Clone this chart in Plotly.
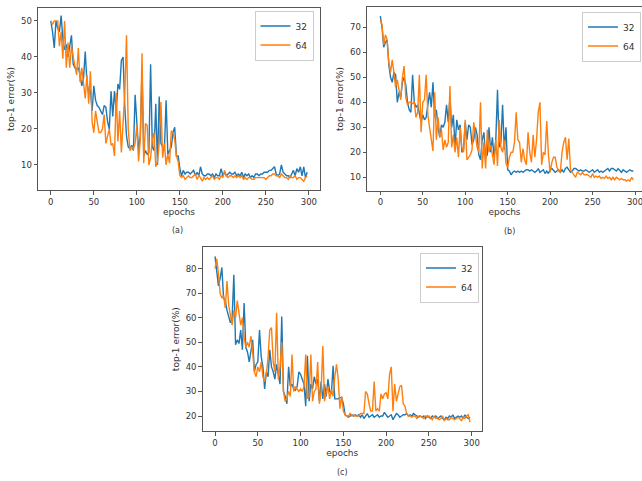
import plotly.graph_objects as go

epochs = list(range(0, 300, 2))

a32 = [50, 47, 42.5, 50, 48, 47, 51.5, 45, 42, 43.5,
       40, 43, 46, 38, 37, 36.5, 37, 35, 32, 34,
       41.5, 33, 30, 31, 25, 32, 28, 26.5, 26, 25,
       24, 26.5, 26, 22, 20, 30.5, 23.5, 30.5, 25, 32.5,
       31, 39, 40, 26, 18, 15, 14.5, 15.5, 14, 29.5,
       20, 14, 18, 36.5, 12.5, 14, 13, 13.5, 38, 15,
       14, 27, 10, 29, 16, 15, 14, 28, 13, 14,
       15, 19, 20.5, 12.5, 12.5, 9, 7, 8.5, 7.5, 8,
       8, 7.5, 8, 8.5, 7, 8, 7, 9.5, 7.5, 7,
       7, 7.5, 7.5, 7, 7.5, 6.5, 7.5, 7, 7, 9,
       7, 8, 7, 7.5, 8, 7.5, 7.5, 8, 7, 7.5,
       7, 8, 6.5, 7.5, 7, 7.5, 6.5, 7, 6.5, 7.5,
       7.5, 7, 7.5, 7.5, 8, 8, 8, 8.5, 8.5, 9,
       9.5, 7.5, 7, 7.5, 10, 8, 7.5, 7, 7, 6.5,
       7.5, 8.5, 7, 9, 8, 9.5, 7, 9.5, 6.5, 8]

a64 = [50, 49, 50, 50, 50, 43, 47, 39.5, 50, 37,
       44, 37, 43, 40, 37, 35, 42.5, 33, 37, 33,
       28.5, 35, 27, 36, 22, 19, 25, 22, 19, 19,
       20, 24, 16, 18, 20, 15.5, 16, 12.5, 30, 16.5,
       25, 13.5, 21, 30, 46, 20, 14, 15, 14.5, 16,
       21, 11, 17, 41, 10.5, 21.5, 21, 10, 12, 17,
       19, 9.5, 11, 16, 27.5, 12, 16, 10, 13, 10.5,
       19.5, 19, 17, 12.5, 11, 7, 6.5, 7, 6, 6.5,
       7, 6.5, 6.5, 7, 7.5, 6, 7, 6.5, 5.5, 6.5,
       6, 6.5, 6, 6.5, 7, 6, 6.5, 6.5, 6, 7,
       6.5, 8.5, 7, 6.5, 7, 7, 6.5, 7, 6.5, 7,
       6.5, 7, 6, 6.5, 6, 6.5, 6.5, 6, 6, 6.5,
       6.5, 6.5, 6.5, 6.5, 6.5, 6, 6.5, 7, 7, 7.5,
       7.5, 7, 7, 6.5, 7.5, 7, 6.5, 6.5, 6, 7,
       6.5, 6.5, 7, 6, 6.5, 6.5, 6, 5.5, 6.5, 7]

b32 = [74.5, 70, 62, 64, 65, 55, 50, 48, 52, 51,
       40, 44, 42, 48, 50, 47, 40, 37, 36, 51,
       40, 38, 39, 35, 32, 35, 33, 34, 40, 44,
       38, 48, 34, 37, 30, 26, 31, 30, 32, 39,
       32, 42, 30, 35, 22, 33, 29, 31, 20, 21,
       32, 25, 31, 30, 23, 25, 30, 27, 19, 17,
       25, 28, 18, 19, 30, 20, 26, 18, 25, 45,
       22, 24, 39, 21, 30, 13, 12.5, 11, 12, 12.5,
       12, 12.5, 12, 12.5, 12, 12.5, 13, 13, 12.5, 13,
       12.5, 12, 12.5, 13.5, 12, 12.5, 13, 11.5, 12.5, 11.5,
       13, 13.5, 12.5, 12, 12.5, 13, 12, 13, 12, 13.5,
       14, 13, 12, 12.5, 13.5, 13.5, 13, 12.5, 13, 12.5,
       12.5, 13, 12.5, 12, 12.5, 13, 12, 12.5, 13, 12,
       12.5, 12, 12.5, 13, 13.5, 12.5, 13.5, 13.5, 13, 12.5,
       13.5, 12.5, 12, 13, 12.5, 12, 12.5, 13, 12.5, 12.5]

b64 = [73, 71, 63, 67, 65, 56, 52, 57, 52, 46,
       49, 45, 41, 50, 54.5, 42, 39, 40, 40, 39.5,
       40, 34, 36, 51, 28, 40, 41, 51, 35, 30,
       24, 20.5, 44, 25, 34, 26, 29, 21, 25, 22,
       24, 46.5, 22, 27, 20, 26, 18, 30, 22, 20,
       33, 17, 18, 19, 21, 32, 27, 22, 20, 40,
       13.5, 24, 13.5, 29, 20, 23, 19, 15, 25, 14.5,
       33, 22, 20, 25, 15.5, 14, 18, 20, 20, 24,
       36, 25, 24, 16, 21.5, 17, 15, 28, 20, 16,
       27, 18, 25, 36, 40, 15, 20, 19, 32.5, 19,
       12, 16, 18, 18, 14, 12.5, 12, 20, 24, 26,
       17, 25.5, 13, 12, 11, 10, 12, 11.5, 11, 12,
       11, 11, 11, 10.5, 10, 11.5, 10, 10.5, 10, 10.5,
       9.5, 10, 9.5, 10.5, 9.5, 10, 9, 10, 9, 10,
       9.5, 9, 9.5, 9, 9, 8.5, 9, 8.5, 10, 9]

c32 = [85, 78, 73, 76, 80.5, 68, 67, 63, 60, 58,
       60, 77.5, 49, 51, 49.5, 55, 47, 66, 48, 46,
       42, 46, 51, 38, 41, 42, 55, 44, 40, 31,
       38, 36, 47, 40, 38, 35, 41, 37, 33, 60.5,
       30, 28, 25, 40, 32, 33, 31, 30.5, 32, 38,
       37, 35, 33, 24, 44.5, 26, 33, 31, 36, 33,
       35, 26, 34, 27, 33, 28, 35, 30, 29, 40.5,
       27, 27, 27, 27.5, 27.5, 25, 20.5, 20, 19.5, 20,
       20.5, 20, 20.5, 20, 20.5, 19.5, 20.5, 19, 20, 21,
       19.5, 20, 20.5, 19.5, 20, 20.5, 19.5, 20, 20, 21.5,
       20.5, 19.5, 20, 20.5, 18.5, 20, 21, 20.5, 19.5, 20,
       20.5, 20.5, 21, 20, 20.5, 20, 21, 20.5, 20, 19.5,
       20, 19.5, 20, 19, 20, 19.5, 19, 20, 19.5, 20,
       19, 19.5, 20, 19, 18.5, 19.5, 19, 20, 19.5, 20.5,
       19, 19.5, 20, 19.5, 20, 19, 20.5, 19.5, 19, 19.5]

c64 = [80, 84, 78, 70, 68, 69, 64, 75, 65, 60,
       57, 63, 60, 67, 62, 57, 60, 52, 48, 50,
       48, 52.5, 46, 38, 36, 40, 38, 42, 36, 34,
       37, 44, 55, 56, 42, 38, 62, 35, 40, 50,
       30, 26, 27, 30, 28, 45, 30, 32, 31, 30,
       31, 30, 32, 45, 27, 28, 45, 26, 30, 31,
       42, 25, 30, 48.5, 26, 30, 32, 27, 31, 28,
       36, 41, 35, 23, 28, 22, 20.5, 20, 20, 21,
       20, 20.5, 20, 20, 20, 21, 21, 21, 30, 29,
       25, 22, 22, 34, 22, 23, 22, 29, 27, 29,
       29.5, 27, 37, 40, 22, 33, 26, 29, 32, 32.5,
       25, 24, 21, 20, 20, 19.5, 20, 20, 19, 20,
       20, 19.5, 19, 20, 19.5, 20, 19, 18.5, 20, 19,
       19.5, 18.5, 19, 20, 18, 19, 18.5, 18.5, 19.5, 19,
       18.5, 19, 19.5, 19, 18, 19.5, 19, 20, 20.5, 17.5]

series_names = ["32", "64"]
colors = ["#1f77b4", "#ff7f0e"]
panel_labels = ["(a)", "(b)", "(c)"]
x_ticks = [0, 50, 100, 150, 200, 250, 300]
y_ticks = [[10, 20, 30, 40, 50], [10, 20, 30, 40, 50, 60, 70], [20, 30, 40, 50, 60, 70, 80]]

W, H = 642, 481
FONT = "DejaVu Sans"
TXT = "#333333"

fig = go.Figure()

panels = [
    dict(data=(a32, a64), xd=(38, 320), yd=(8, 190), xr=(-14.9, 312.9), yr=(3.05, 53.6),
         leg=(313.5, 10.5, "right"), lab=(178, 230)),
    dict(data=(b32, b64), xd=(367, 642), yd=(7.3, 190.7), xr=(-15.7, 308.2), yr=(4.64, 78),
         leg=(641, 11.5, "right"), lab=(509, 231)),
    dict(data=(c32, c64), xd=(202.7, 481.7), yd=(247.3, 431), xr=(-14.4, 311.7), yr=(13.9, 88.7),
         leg=(479, 252.5, "right"), lab=(342.5, 472.5)),
]

layout = dict(
    width=W, height=H,
    margin=dict(l=0, r=0, t=0, b=0, autoexpand=False),
    paper_bgcolor="white", plot_bgcolor="white",
    font=dict(family=FONT, size=9, color=TXT),
    annotations=[],
)

for i, p in enumerate(panels):
    sfx = "" if i == 0 else str(i + 1)
    xa, ya = "x" + sfx, "y" + sfx
    legname = "legend" + sfx
    for k in range(2):
        fig.add_trace(go.Scatter(
            x=epochs, y=p["data"][k], mode="lines", name=series_names[k],
            line=dict(color=colors[k], width=1.4),
            xaxis=xa, yaxis=ya, legend=legname,
        ))
    axis_common = dict(
        showgrid=False, zeroline=False, showline=True, linecolor="#555555", linewidth=1,
        mirror=True, ticks="outside", ticklen=3.5, tickwidth=1, tickcolor="#555555",
        tickfont=dict(family=FONT, size=8.5, color=TXT),
    )
    layout["xaxis" + sfx] = dict(
        axis_common, domain=[p["xd"][0] / W, p["xd"][1] / W], range=list(p["xr"]),
        tickvals=x_ticks, anchor=ya, ticklabeloverflow="allow",
        title=dict(text="epochs", standoff=2, font=dict(family=FONT, size=9, color=TXT)),
    )
    layout["yaxis" + sfx] = dict(
        axis_common, domain=[1 - p["yd"][1] / H, 1 - p["yd"][0] / H], range=list(p["yr"]),
        tickvals=y_ticks[i], anchor=xa,
        title=dict(text="top-1 error(%)", standoff=4, font=dict(family=FONT, size=9, color=TXT)),
    )
    lx, ly, la = p["leg"]
    layout[legname] = dict(
        x=lx / W, y=1 - ly / H, xanchor=la, yanchor="top",
        bgcolor="rgba(255,255,255,0.8)", bordercolor="#cccccc", borderwidth=1,
        font=dict(family=FONT, size=9, color=TXT), tracegroupgap=0, itemwidth=30,
    )
    layout["annotations"].append(dict(
        text=panel_labels[i], x=p["lab"][0] / W, y=1 - p["lab"][1] / H,
        xref="paper", yref="paper", showarrow=False, xanchor="center", yanchor="middle",
        font=dict(family=FONT, size=8, color=TXT),
    ))

fig.update_layout(**layout)
fig.write_html(
    "out.html",
    config={"displayModeBar": False},
    post_script="document.body.style.margin='0';document.body.style.padding='0';document.body.style.overflow='hidden';",
)
